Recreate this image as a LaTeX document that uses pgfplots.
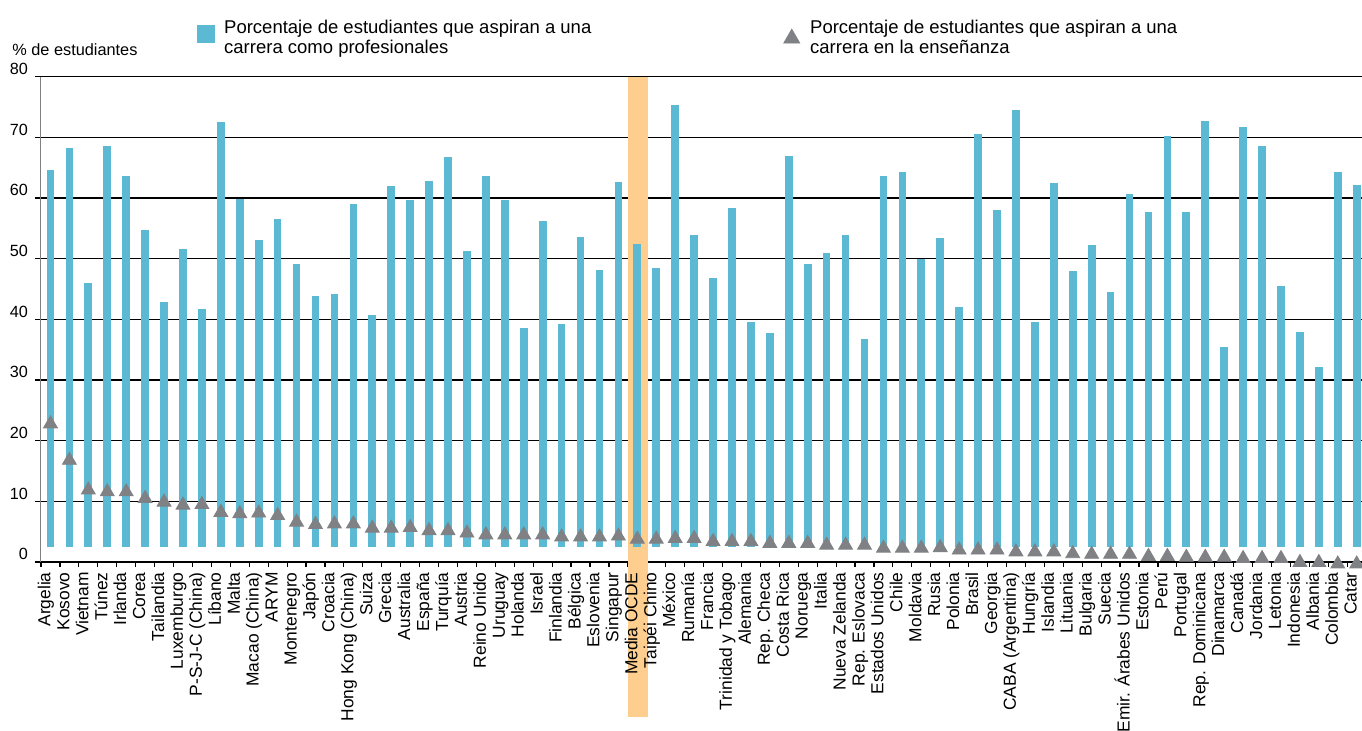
\documentclass[border=0pt]{standalone}
\usepackage{fontspec}
\setmainfont{Liberation Sans}
\usepackage{pgfplots}
\usepackage{pgfplotstable}
\pgfplotsset{compat=1.18}
\definecolor{barblue}{RGB}{92,185,212}
\definecolor{trigray}{RGB}{128,129,132}
\definecolor{bandorange}{RGB}{254,206,142}

\pgfplotstableread{
i p t
0 64.6 23.1
1 68.2 17.1
2 46.0 12.2
3 68.6 11.9
4 63.6 11.9
5 54.7 10.8
6 42.9 10.2
7 51.6 9.7
8 41.7 9.8
9 72.5 8.5
10 59.8 8.3
11 53.1 8.4
12 56.5 8.0
13 49.1 6.9
14 43.9 6.5
15 44.2 6.6
16 59.0 6.6
17 40.7 5.9
18 62.0 5.9
19 59.7 6.0
20 62.8 5.5
21 66.8 5.5
22 51.3 5.1
23 63.6 4.8
24 59.7 4.8
25 38.6 4.8
26 56.2 4.8
27 39.2 4.45
28 53.5 4.45
29 48.1 4.45
30 62.6 4.6
31 52.4 4.1
32 48.5 4.1
33 75.3 4.2
34 53.9 4.2
35 46.8 3.7
36 58.4 3.7
37 39.6 3.7
38 37.8 3.4
39 66.9 3.4
40 49.2 3.4
41 51.0 3.1
42 53.9 3.1
43 36.8 3.1
44 63.6 2.6
45 64.3 2.6
46 50.0 2.6
47 53.4 2.7
48 42.0 2.3
49 70.6 2.3
50 58.0 2.3
51 74.5 2.0
52 39.6 2.0
53 62.5 2.0
54 48.0 1.7
55 52.3 1.6
56 44.5 1.6
57 60.7 1.6
58 57.7 1.25
59 70.2 1.25
60 57.7 1.1
61 72.7 1.1
62 35.4 1.1
63 71.7 0.9
64 68.6 0.9
65 45.5 0.9
66 37.9 0.25
67 32.1 0.25
68 64.3 0
69 62.2 0
}\data

\begin{document}
\begin{tikzpicture}
\begin{axis}[
 at={(0pt,0pt)}, anchor=south west,
 width=660.5pt, height=242.65pt, scale only axis,
 xmin=-0.5, xmax=69.28, ymin=0, ymax=80,
 clip=false,
 axis lines*=left,
 tick align=outside,
 major tick length=3pt, minor tick length=2.5pt,
 ytick={0,10,...,80},
 xtick={0,...,69},
 minor xtick={-0.5,0.5,...,69.5},
 xticklabels={Argelia,Kosovo,Vietnam,Túnez,Irlanda,Corea,Tailandia,Luxemburgo,P-S-J-C (China),Líbano,Malta,Macao (China),ARYM,Montenegro,Japón,Croacia,Hong Kong (China),Suiza,Grecia,Australia,España,Turquía,Austria,Reino Unido,Uruguay,Holanda,Israel,Finlandia,Bélgica,Eslovenia,Singapur,{},{},México,Rumanía,Francia,Trinidad y Tobago,Alemania,Rep. Checa,Costa Rica,Noruega,Italia,Nueva Zelanda,Rep. Eslovaca,Estados Unidos,Chile,Moldavia,Rusia,Polonia,Brasil,Georgia,CABA (Argentina),Hungría,Islandia,Lituania,Bulgaria,Suecia,Emir. Árabes Unidos,Estonia,Perú,Portugal,Rep. Dominicana,Dinamarca,Canadá,Jordania,Letonia,Indonesia,Albania,Colombia,Catar},
 major x tick style={draw=none},
 minor x tick style={black, line width=0.6pt},
 major y tick style={black, line width=0.6pt},
 x axis line style={black, line width=0.6pt},
 y axis line style={gray, line width=0.5pt},
 ymajorgrids,
 major grid style={black, line width=0.6pt},
 /pgf/number format/assume math mode=true,
 yticklabel style={anchor=base east, inner sep=0pt, xshift=-3.35pt, yshift=1.1pt, font=\fontsize{8.1}{9}\selectfont},
 xticklabel style={yshift=-2pt, rotate=90, anchor=base east, inner sep=0pt, font=\fontsize{8.7}{9}\selectfont},
 legend columns=2,
 legend cell align=left,
 legend style={at={(axis description cs:0,1)}, anchor=north west, xshift=78pt, yshift=28.7pt, draw=none, fill=none, inner sep=0pt, font=\fontsize{9.25}{10}\selectfont, nodes={inner sep=0pt}, /tikz/every even column/.append style={column sep=96pt}},
]
\addlegendimage{legend image code/.code={\fill[barblue] (0pt,-4.25pt) rectangle (8.5pt,4.25pt); \path (13pt,0pt);}}
\addlegendentry{\begin{tabular}{@{}l@{}}Porcentaje de estudiantes que aspiran a una\\carrera como profesionales\end{tabular}}
\addlegendimage{legend image code/.code={\path (0pt,0pt) (13pt,0pt); \draw[trigray, only marks, mark=triangle*, mark size=4.6pt] plot coordinates {(4pt,-2.5pt)};}}
\addlegendentry{\begin{tabular}{@{}l@{}}Porcentaje de estudiantes que aspiran a una\\carrera en la enseñanza\end{tabular}}

\addplot[forget plot, fill=bandorange, draw=none] coordinates {(30.52,-25.5) (31.55,-25.5) (31.55,80) (30.52,80)} -- cycle;
\addplot[forget plot, draw=none, mark=none, error bars/.cd, y dir=minus, y explicit, error mark=none, error bar style={draw=barblue, line width=3.85pt}] table[x=i, y=p, y error expr=\thisrow{p}-2.5] {\data};
\addplot[forget plot, only marks, mark=triangle*, mark size=4pt, color=trigray, mark options={yshift=-1pt}] table[x=i, y=t] {\data};
\node[yshift=-5pt, rotate=90, anchor=base east, inner sep=0pt, font=\fontsize{8.7}{9}\selectfont] at (axis cs:31,0) {Media OCDE};
\node[yshift=-5pt, rotate=90, anchor=base east, inner sep=0pt, font=\fontsize{8.7}{9}\selectfont] at (axis cs:32,0) {Taipéi Chino};
\node[anchor=base west, font=\fontsize{8.15}{9}\selectfont, inner sep=0pt, xshift=-14.5pt, yshift=10.85pt] at (rel axis cs:0,1) {\% de estudiantes};
\end{axis}
\pgfresetboundingbox
\path[use as bounding box] (-20.5pt,-84.5pt) rectangle (660.5pt,281pt);
\end{tikzpicture}
\end{document}
